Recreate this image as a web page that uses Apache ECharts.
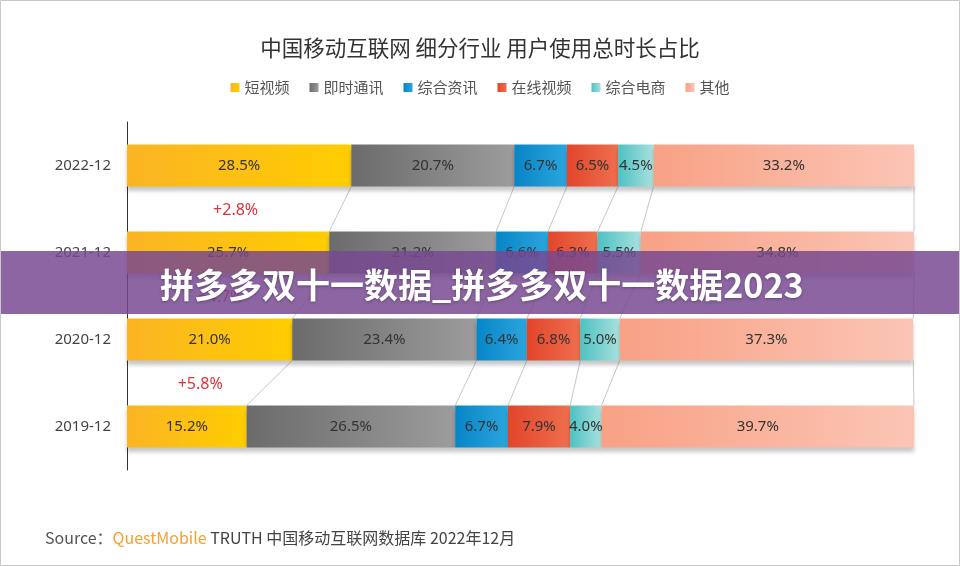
<!DOCTYPE html>
<html>
<head>
<meta charset="utf-8">
<script src="https://cdn.jsdelivr.net/npm/echarts@6/dist/echarts.min.js"></script>
<style>html,body{margin:0;padding:0;background:#fff}#c{width:960px;height:566px}</style>
</head>
<body>
<div id="c"></div>
<script>
const categories = ['2019-12', '2020-12', '2021-12', '2022-12'];
const seriesNames = ['短视频', '即时通讯', '综合资讯', '在线视频', '综合电商', '其他'];
const shortVideo = [15.2, 21.0, 25.7, 28.5];
const instantMsg = [26.5, 23.4, 21.2, 20.7];
const newsInfo = [6.7, 6.4, 6.6, 6.7];
const onlineVideo = [7.9, 6.8, 6.3, 6.5];
const eCommerce = [4.0, 5.0, 5.5, 4.5];
const others = [39.7, 37.3, 34.8, 33.2];
const growthLabels = ['+5.8%', '+4.7%', '+2.8%'];

const seriesValues = [shortVideo, instantMsg, newsInfo, onlineVideo, eCommerce, others];
const gradients = [
  ['#fbb424', '#ffcd00'],
  ['#6b6b6b', '#9c9c9c'],
  ['#0885c6', '#2ba5de'],
  ['#e2452a', '#ef6f4f'],
  ['#4cc2c2', '#a9e0de'],
  ['#f8a185', '#fbc5b5']
];
const BAR_W = 42;

function grad(c) {
  return new echarts.graphic.LinearGradient(0, 0, 1, 0, [
    { offset: 0, color: c[0] }, { offset: 1, color: c[1] }
  ]);
}

const chart = echarts.init(document.getElementById('c'));

const barSeries = seriesValues.map((vals, k) => ({
  name: seriesNames[k],
  type: 'bar',
  stack: 'total',
  barWidth: BAR_W,
  data: vals,
  z: 3,
  itemStyle: {
    color: grad(gradients[k]),
    shadowColor: 'rgba(0,0,0,0.22)',
    shadowBlur: 4,
    shadowOffsetY: 4
  },
  label: {
    show: true,
    position: 'inside',
    color: '#333',
    fontSize: 15,
    fontFamily: 'Noto Sans',
    formatter: p => p.value.toFixed(1) + '%'
  },
  emphasis: { disabled: true }
}));

const connData = [];
for (let i = 0; i < categories.length - 1; i++) {
  for (let k = 0; k < seriesValues.length; k++) connData.push([i, k]);
}
function cum(cat, k) {
  let s = 0;
  for (let j = 0; j <= k; j++) s += seriesValues[j][cat];
  return Math.min(s, 100);
}

const connectorSeries = {
  type: 'custom',
  z: 1,
  silent: true,
  data: connData,
  renderItem: function (params, api) {
    const i = api.value(0), k = api.value(1);
    const up = api.coord([cum(i + 1, k), i + 1]);
    const lo = api.coord([cum(i, k), i]);
    return {
      type: 'line',
      shape: { x1: up[0], y1: up[1] + BAR_W / 2, x2: lo[0], y2: lo[1] - BAR_W / 2 },
      style: { stroke: '#b8b8b8', lineWidth: 0.8 }
    };
  }
};

const growthSeries = {
  type: 'custom',
  z: 4,
  silent: true,
  data: growthLabels.map((g, i) => [i]),
  renderItem: function (params, api) {
    const i = api.value(0);
    const up = api.coord([shortVideo[i + 1] / 2, i + 1]);
    const lo = api.coord([shortVideo[i] / 2, i]);
    return {
      type: 'text',
      x: (up[0] + lo[0]) / 2 + 2,
      y: (up[1] + lo[1]) / 2 + 1,
      style: {
        text: growthLabels[i],
        fill: '#e0323a',
        fontSize: 16,
        fontFamily: 'Noto Sans',
        align: 'center',
        verticalAlign: 'middle'
      }
    };
  }
};

chart.setOption({
  backgroundColor: '#fff',
  animation: false,
  title: {
    text: '中国移动互联网 细分行业 用户使用总时长占比',
    left: 'center',
    top: 32,
    textStyle: { fontSize: 21.5, fontWeight: 'normal', color: '#333', fontFamily: 'Noto Sans CJK SC' }
  },
  legend: {
    top: 75,
    left: 'center',
    icon: 'rect',
    itemWidth: 9,
    itemHeight: 9,
    itemGap: 20,
    data: seriesNames,
    textStyle: { fontSize: 15, color: '#555', fontFamily: 'Noto Sans CJK SC' }
  },
  grid: { left: 127, right: 46, top: 122, bottom: 96, containLabel: false },
  xAxis: {
    type: 'value',
    min: 0,
    max: 100,
    show: false
  },
  yAxis: {
    type: 'category',
    data: categories,
    axisLine: { show: true, lineStyle: { color: '#333', width: 1 } },
    axisTick: { show: false },
    axisLabel: { color: '#444', fontSize: 15, margin: 16, fontFamily: 'Noto Sans' }
  },
  series: [connectorSeries, ...barSeries, growthSeries],
  graphic: [
    {
      type: 'text',
      left: 45,
      top: 530,
      style: {
        text: '{a|Source：}{b|QuestMobile}{c| TRUTH 中国移动互联网数据库 2022年12月}',
        rich: {
          a: { fontSize: 16, fill: '#555', fontFamily: 'Noto Sans CJK SC' },
          b: { fontSize: 16, fill: '#f5a030', fontFamily: 'Noto Sans CJK SC' },
          c: { fontSize: 16, fill: '#444', fontFamily: 'Noto Sans CJK SC' }
        }
      }
    },
    {
      type: 'rect',
      z: 100,
      shape: { x: 0, y: 251, width: 960, height: 63 },
      style: { fill: 'rgba(118,72,144,0.84)' }
    },
    {
      type: 'text',
      z: 101,
      x: 160,
      y: 285,
      style: {
        text: '拼多多双十一数据_拼多多双十一数据2023',
        fill: '#fff',
        fontSize: 34,
        fontWeight: 'bold',
        fontFamily: 'Noto Sans CJK SC',
        verticalAlign: 'middle',
        textShadowColor: 'rgba(0,0,0,0.3)',
        textShadowBlur: 3,
        textShadowOffsetY: 1
      }
    },
    {
      type: 'rect',
      z: 102,
      shape: { x: 0.5, y: 0.5, width: 959, height: 565 },
      style: { fill: 'none', stroke: '#c8c8c8', lineWidth: 1 }
    }
  ]
});
</script>
</body>
</html>
